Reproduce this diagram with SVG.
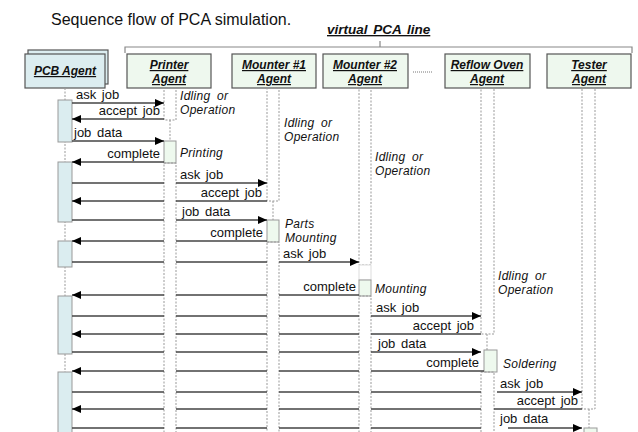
<svg xmlns="http://www.w3.org/2000/svg" width="638" height="432" viewBox="0 0 638 432">
  <style>
    text { font-family: "Liberation Sans", Arial, sans-serif; fill: #111; }
    .title { font-size: 16px; }
    .vline { font-size: 13.5px; font-weight: bold; font-style: italic; text-decoration: underline; word-spacing: 2px; }
    .hdr { font-size: 12px; font-weight: bold; font-style: italic; text-decoration: underline; text-anchor: middle; }
    .msg { font-size: 13px; word-spacing: 2px; }
    .msg.r { text-anchor: end; }
    .state { font-size: 12px; font-style: italic; word-spacing: 3px; letter-spacing: 0.3px; }
    .agent { fill: #eef8ee; stroke: #555; stroke-width: 1.2; }
    .pcb { fill: #dcedf0; stroke: #555; stroke-width: 1.2; }
    .idle { fill: none; stroke: #999; stroke-width: 1; stroke-dasharray: 2 1.5; }
    .life { fill: none; stroke: #999; stroke-width: 1; stroke-dasharray: 2 1.5; }
    .act { fill: #eef9ee; stroke: #999; stroke-width: 1; }
    .bar { fill: #dbedf0; stroke: #999; stroke-width: 1; }
    .wire { fill: none; stroke: #444; stroke-width: 1.3; }
    .brace { fill: none; stroke: #888; stroke-width: 1.2; }
  </style>
  <defs>
    <marker id="head" markerUnits="userSpaceOnUse" markerWidth="10" markerHeight="8" refX="9" refY="4" orient="auto">
      <path d="M0,0 L9,4 L0,8 Z" fill="#000"/>
    </marker>
  </defs>

  <rect width="638" height="432" fill="#fff"/>

  <text class="title" x="51" y="25">Sequence flow of PCA simulation.</text>

  <!-- bracket spanning the line agents -->
  <g id="pca-line">
    <text class="vline" x="327" y="34">virtual PCA line</text>
    <path class="brace" d="M125,53 L125,47 L632,47 L632,53 M380,47 L380,41"/>
  </g>

  <!-- PCB agent -->
  <g id="pcb-agent">
    <rect class="pcb" x="28" y="50" width="80" height="34"/>
    <rect class="pcb" x="25" y="54" width="80" height="34"/>
    <text class="hdr" x="65" y="75">PCB Agent</text>
    <line class="life" x1="65" y1="88" x2="65" y2="432"/>
    <rect class="bar" x="58" y="100" width="14" height="42"/>
    <rect class="bar" x="58" y="162" width="14" height="60"/>
    <rect class="bar" x="58" y="241" width="14" height="26"/>
    <rect class="bar" x="58" y="296" width="14" height="58"/>
    <rect class="bar" x="58" y="372" width="14" height="66"/>
  </g>

  <!-- Printer agent -->
  <g id="printer-agent">
    <rect class="agent" x="127" y="54" width="84" height="34"/>
    <text class="hdr" x="169" y="69">Printer</text>
    <text class="hdr" x="169" y="83">Agent</text>
    <rect class="idle" x="164" y="88" width="12" height="32"/>
    <line class="life" x1="170" y1="120" x2="170" y2="141"/>
    <rect class="act" x="164" y="141" width="12" height="22"/>
    <rect class="idle" x="164" y="163" width="12" height="275"/>
    <text class="state" x="180" y="100">Idling or</text>
    <text class="state" x="180" y="114">Operation</text>
    <text class="state" x="180" y="157">Printing</text>
  </g>

  <!-- Mounter #1 agent -->
  <g id="mounter1-agent">
    <rect class="agent" x="232" y="54" width="84" height="34"/>
    <text class="hdr" x="274" y="69">Mounter #1</text>
    <text class="hdr" x="274" y="83">Agent</text>
    <rect class="idle" x="267" y="88" width="12" height="113"/>
    <line class="life" x1="273" y1="201" x2="273" y2="220"/>
    <rect class="act" x="267" y="220" width="12" height="22"/>
    <rect class="idle" x="267" y="242" width="12" height="196"/>
    <text class="state" x="284" y="127">Idling or</text>
    <text class="state" x="284" y="141">Operation</text>
    <text class="state" x="285" y="228">Parts</text>
    <text class="state" x="285" y="242">Mounting</text>
  </g>

  <!-- Mounter #2 agent -->
  <g id="mounter2-agent">
    <rect class="agent" x="323" y="54" width="85" height="34"/>
    <text class="hdr" x="365" y="69">Mounter #2</text>
    <text class="hdr" x="365" y="83">Agent</text>
    <rect class="idle" x="359" y="88" width="12" height="177"/>
    <rect x="359" y="265" width="12" height="15" fill="#fff" stroke="#ddd" stroke-width="1"/>
    <rect class="act" x="359" y="280" width="12" height="16"/>
    <rect class="idle" x="359" y="296" width="12" height="142"/>
    <text class="state" x="375" y="161">Idling or</text>
    <text class="state" x="375" y="175">Operation</text>
    <text class="state" x="375" y="293">Mounting</text>
  </g>

  <!-- elided agents -->
  <g id="ellipsis">
    <line x1="413" y1="72" x2="433" y2="72" stroke="#777" stroke-width="1" stroke-dasharray="1 1"/>
  </g>

  <!-- Reflow oven agent -->
  <g id="reflow-agent">
    <rect class="agent" x="445" y="54" width="85" height="34"/>
    <text class="hdr" x="487" y="69">Reflow Oven</text>
    <text class="hdr" x="487" y="83">Agent</text>
    <rect class="idle" x="481" y="88" width="13" height="246"/>
    <line class="life" x1="487" y1="334" x2="487" y2="350"/>
    <rect class="act" x="484" y="350" width="13" height="22"/>
    <rect class="idle" x="481" y="372" width="13" height="66"/>
    <text class="state" x="498" y="280">Idling or</text>
    <text class="state" x="498" y="294">Operation</text>
    <text class="state" x="503" y="368">Soldering</text>
  </g>

  <!-- Tester agent -->
  <g id="tester-agent">
    <rect class="agent" x="547" y="54" width="84" height="34"/>
    <text class="hdr" x="589" y="69">Tester</text>
    <text class="hdr" x="589" y="83">Agent</text>
    <rect class="idle" x="582" y="88" width="13" height="321"/>
    <line class="life" x1="589" y1="409" x2="589" y2="428"/>
    <rect class="act" x="584" y="428" width="13" height="12"/>
  </g>

  <!-- messages: each wire is broken at every lifeline column it passes -->
  <g id="connectors">
    <!-- to Printer -->
    <path class="wire" d="M72,103 H164" marker-end="url(#head)"/>
    <path class="wire" d="M164,119 H72" marker-end="url(#head)"/>
    <path class="wire" d="M72,141 H164" marker-end="url(#head)"/>
    <path class="wire" d="M164,162 H72" marker-end="url(#head)"/>
    <!-- to Mounter #1 -->
    <path class="wire" d="M72,183 H164"/>
    <path class="wire" d="M176,183 H267" marker-end="url(#head)"/>
    <path class="wire" d="M267,201 H176"/>
    <path class="wire" d="M164,201 H72" marker-end="url(#head)"/>
    <path class="wire" d="M72,220 H164"/>
    <path class="wire" d="M176,220 H267" marker-end="url(#head)"/>
    <path class="wire" d="M267,241 H176"/>
    <path class="wire" d="M164,241 H72" marker-end="url(#head)"/>
    <!-- to Mounter #2 -->
    <path class="wire" d="M72,262 H164 M176,262 H267"/>
    <path class="wire" d="M279,262 H359" marker-end="url(#head)"/>
    <path class="wire" d="M359,295 H279 M267,295 H176"/>
    <path class="wire" d="M164,295 H72" marker-end="url(#head)"/>
    <!-- to Reflow oven -->
    <path class="wire" d="M72,316 H164 M176,316 H267 M279,316 H359"/>
    <path class="wire" d="M371,316 H481" marker-end="url(#head)"/>
    <path class="wire" d="M481,334 H371 M359,334 H279 M267,334 H176"/>
    <path class="wire" d="M164,334 H72" marker-end="url(#head)"/>
    <path class="wire" d="M72,352 H164 M176,352 H267 M279,352 H359"/>
    <path class="wire" d="M371,352 H481" marker-end="url(#head)"/>
    <path class="wire" d="M484,371 H371 M359,371 H279 M267,371 H176"/>
    <path class="wire" d="M164,371 H72" marker-end="url(#head)"/>
    <!-- to Tester -->
    <path class="wire" d="M72,392 H164 M176,392 H267 M279,392 H359 M371,392 H481"/>
    <path class="wire" d="M497,392 H582" marker-end="url(#head)"/>
    <path class="wire" d="M582,409 H494 M481,409 H371 M359,409 H279 M267,409 H176"/>
    <path class="wire" d="M164,409 H72" marker-end="url(#head)"/>
    <path class="wire" d="M72,428 H164 M176,428 H267 M279,428 H359 M371,428 H481"/>
    <path class="wire" d="M508,428 H582" marker-end="url(#head)"/>
  </g>

  <!-- message labels -->
  <g id="labels">
    <text class="msg" x="76" y="99">ask job</text>
    <text class="msg r" x="160" y="115">accept job</text>
    <text class="msg" x="74" y="137">job data</text>
    <text class="msg r" x="160" y="158">complete</text>
    <text class="msg" x="180" y="179">ask job</text>
    <text class="msg r" x="262" y="197">accept job</text>
    <text class="msg" x="182" y="216">job data</text>
    <text class="msg r" x="263" y="237">complete</text>
    <text class="msg" x="283" y="258">ask job</text>
    <text class="msg r" x="356" y="291">complete</text>
    <text class="msg" x="376" y="312">ask job</text>
    <text class="msg r" x="474" y="330">accept job</text>
    <text class="msg" x="378" y="348">job data</text>
    <text class="msg r" x="479" y="367">complete</text>
    <text class="msg" x="500" y="388">ask job</text>
    <text class="msg r" x="578" y="405">accept job</text>
    <text class="msg" x="500" y="423">job data</text>
  </g>
</svg>
